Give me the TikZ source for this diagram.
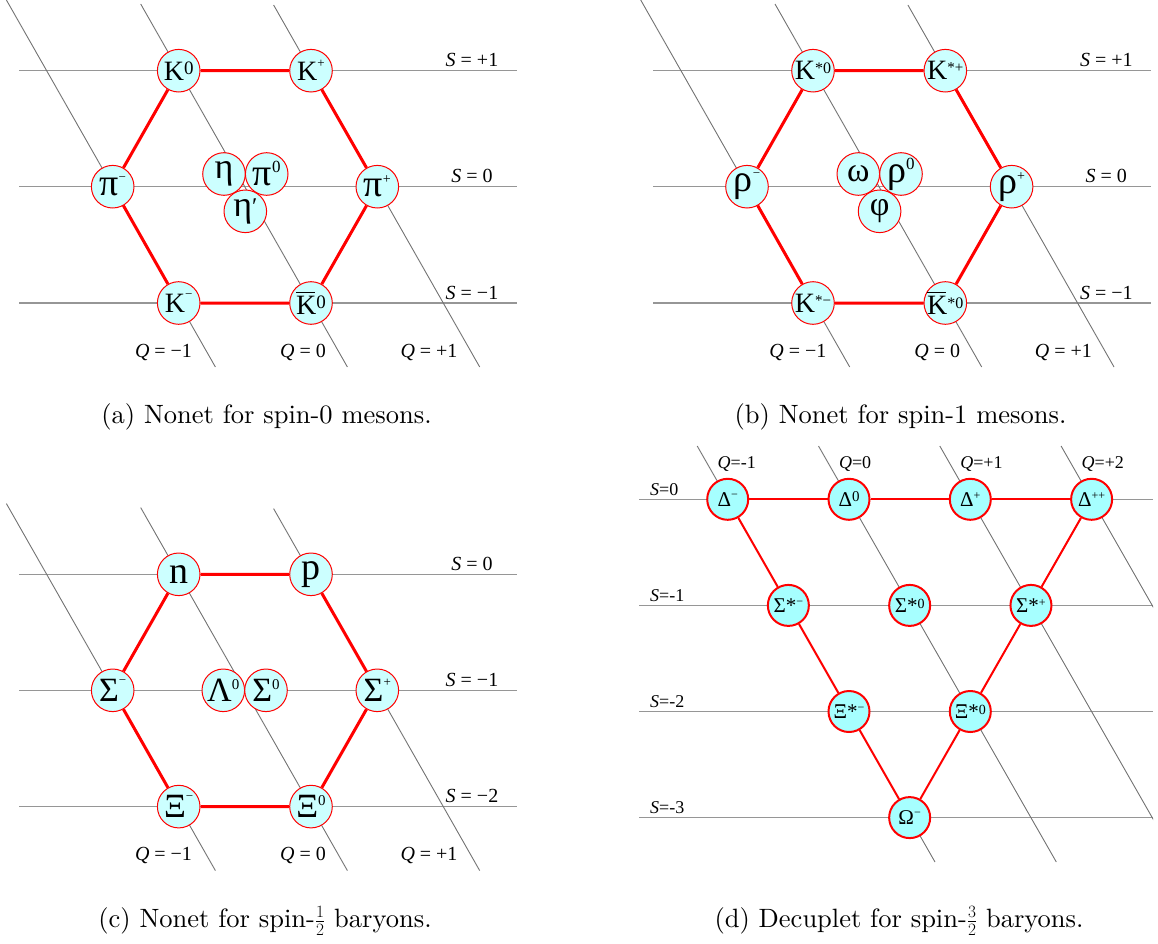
\documentclass[tikz,border=0pt]{standalone}
\usepackage{fontspec}
\newfontfamily\tms{Liberation Serif}
\newfontfamily\capfont{lmroman10-regular.otf}
\newcommand\fs[1]{\fontsize{#1}{#1}\selectfont}
\newcommand\hi[3]{\raisebox{#2pt}{\fs{#1}#3}}
\newcommand\kbar{\rlap{\rule[21pt]{19pt}{1.6pt}}K}
\definecolor{nfill}{RGB}{204,255,255}
\definecolor{dfill}{RGB}{166,255,255}
\definecolor{sgray}{RGB}{150,150,150}
\definecolor{qgray}{RGB}{115,115,115}
\tikzset{
 sline/.style={draw=sgray, line width=1.3pt},
 qline/.style={draw=qgray, line width=0.9pt},
 hexedge/.style={draw=red, line width=3pt},
 part/.style={circle, draw=red, line width=1pt, fill=nfill, minimum size=42.6pt, inner sep=0pt, font=\tms},
 dpart/.style={circle, draw=red, line width=2pt, fill=dfill, minimum size=41pt, inner sep=0pt, font=\tms\fs{21}},
 dedge/.style={draw=red, line width=2pt},
 slab/.style={font=\tms\fs{20}, anchor=base, inner sep=0pt},
 dlab/.style={font=\tms\fs{18}, anchor=base west, inner sep=0pt},
 caption/.style={font=\capfont\fs{26.5}, anchor=base, inner sep=0pt},
}
\newcommand\nonetgrid{%
 \draw[sline] (19,70.7) -- (517,70.7);
 \draw[sline] (19,186.7) -- (517,186.7);
 \draw[sline] (19,303) -- (517,303);
 \draw[qline] (6.4,0) -- (215.4,367);
 \draw[qline] (140.7,4) -- (347.4,367);
 \draw[qline] (273.6,5) -- (479.7,367);
}
\begin{document}
\begin{tikzpicture}[x=1pt,y=-1pt]
\useasboundingbox (0,0) rectangle (1158,944);
% ---------------- (a)
\begin{scope}
 \nonetgrid
 \node[part] (aK0) at (178.7,70.7) {\fs{28}K\hi{19}{6}{0}};
 \node[part] (aKp) at (311,70.7) {\fs{28}K\hi{13}{13}{+}};
 \node[part] (apim) at (112.7,186.7) {\fs{38}π\hi{13}{14}{−}};
 \node[part] (apip) at (377.3,186.7) {\fs{38}π\hi{14}{13}{+}};
 \node[part] (aKm) at (178.7,303) {\fs{28}K\hi{13}{13.5}{−}};
 \node[part] (aK0b) at (311,303) {\fs{28}\kbar\hi{19}{6}{0}};
 \node[part] (aeta) at (224,174) {\fs{36}η};
 \node[part] (api0) at (266.7,174) {\fs{38}π\hi{17}{13}{0}};
 \node[part] (aetap) at (245.3,211.3) {\fs{36}η\hi{24}{2}{′}};
 \draw[hexedge] (aK0) -- (aKp) -- (apip) -- (aK0b) -- (aKm) -- (apim) -- (aK0);
 \node[slab] (aS1) at (472,66.7) {\textit{S} = +1};
 \node[slab] (aS2) at (472,182.7) {\textit{S} = 0};
 \node[slab] (aS3) at (472,299) {\textit{S} = −1};
 \node[slab] (aQ1) at (163.5,357) {\textit{Q} = −1};
 \node[slab] (aQ2) at (303,357) {\textit{Q} = 0};
 \node[slab] (aQ3) at (429,357) {\textit{Q} = +1};
 \node[caption] (acap) at (266.5,423) {(a) Nonet for spin-0 mesons.};
\end{scope}
% ---------------- (b)
\begin{scope}[shift={(634.3,0)}]
 \nonetgrid
 \node[part] (bK0) at (178.7,70.7) {\fs{28}K\hi{16}{6}{*0}};
 \node[part] (bKp) at (311,70.7) {\fs{28}K\hi{15}{7}{*+}};
 \node[part] (brm) at (112.7,186.7) {\fs{38}ρ\hi{13}{14}{−}};
 \node[part] (brp) at (377.3,186.7) {\fs{38}ρ\hi{14}{13}{+}};
 \node[part] (bKm) at (178.7,303) {\fs{28}K\hi{15}{7}{*−}};
 \node[part] (bK0b) at (311,303) {\fs{28}\kbar\hi{16}{6}{*0}};
 \node[part] (bom) at (224,174) {\fs{34}ω};
 \node[part] (br0) at (266.7,174) {\fs{38}ρ\hi{17}{13}{0}};
 \node[part] (bphi) at (245.3,211.3) {\fs{34}φ};
 \draw[hexedge] (bK0) -- (bKp) -- (brp) -- (bK0b) -- (bKm) -- (brm) -- (bK0);
 \node[slab] (bS1) at (472,66.7) {\textit{S} = +1};
 \node[slab] (bS2) at (472,182.7) {\textit{S} = 0};
 \node[slab] (bS3) at (472,299) {\textit{S} = −1};
 \node[slab] (bQ1) at (163.5,357) {\textit{Q} = −1};
 \node[slab] (bQ2) at (303,357) {\textit{Q} = 0};
 \node[slab] (bQ3) at (429,357) {\textit{Q} = +1};
 \node[caption] (bcap) at (266.2,423) {(b) Nonet for spin-1 mesons.};
\end{scope}
% ---------------- (c)
\begin{scope}[shift={(0,503.6)}]
 \nonetgrid
 \node[part] (cn) at (178.7,70.7) {\fs{38}n};
 \node[part] (cp) at (311,70.7) {\fs{38}p};
 \node[part] (cSm) at (112.7,186.7) {\fs{34}Σ\hi{13}{17}{−}};
 \node[part] (cSp) at (377.3,186.7) {\fs{34}Σ\hi{13}{15}{+}};
 \node[part] (cXm) at (178.7,303) {\fs{34}Ξ\hi{13}{17}{−}};
 \node[part] (cX0) at (311,303) {\fs{34}Ξ\hi{15}{12}{0}};
 \node[part] (cL0) at (223.3,186.7) {\fs{34}Λ\hi{15}{12}{0}};
 \node[part] (cS0) at (266,186.7) {\fs{34}Σ\hi{15}{12}{0}};
 \draw[hexedge] (cn) -- (cp) -- (cSp) -- (cX0) -- (cXm) -- (cSm) -- (cn);
 \node[slab] (cS1) at (472,66.7) {\textit{S} = 0};
 \node[slab] (cS2) at (472,182.7) {\textit{S} = −1};
 \node[slab] (cS3) at (472,299) {\textit{S} = −2};
 \node[slab] (cQ1) at (163.5,357) {\textit{Q} = −1};
 \node[slab] (cQ2) at (303,357) {\textit{Q} = 0};
 \node[slab] (cQ3) at (429,357) {\textit{Q} = +1};
 \node[caption] (ccap) at (265,423.4) {(c) Nonet for spin-$\frac12$ baryons.};
\end{scope}
% ---------------- (d)
\draw[sline] (639,499.3) -- (1153,499.3);
\draw[sline] (639,605.4) -- (1153,605.4);
\draw[sline] (639,711.5) -- (1153,711.5);
\draw[sline] (639,817.6) -- (1153,817.6);
\begin{scope}
 \clip (600,440) rectangle (1153,862);
 \draw[qline] (697.2,446) -- (935.0,862);
 \draw[qline] (818.5,446) -- (1056.3,862);
 \draw[qline] (939.8,446) -- (1177.6,862);
 \draw[qline] (1061.1,446) -- (1298.9,862);
\end{scope}
\node[dpart] (dDm) at (727.7,499.3) {Δ\hi{12}{8}{−}};
\node[dpart] (dD0) at (849,499.3) {Δ\hi{15}{5}{0}};
\node[dpart] (dDp) at (970.3,499.3) {Δ\hi{12}{7}{+}};
\node[dpart] (dDpp) at (1091.6,499.3) {Δ\hi{12}{7}{++}};
\node[dpart] (dSm) at (788.35,605.4) {Σ*\hi{12}{7}{−}};
\node[dpart] (dS0) at (909.65,605.4) {Σ*\hi{14}{4}{0}};
\node[dpart] (dSp) at (1030.95,605.4) {Σ*\hi{12}{6}{+}};
\node[dpart] (dXm) at (849,711.5) {Ξ*\hi{12}{7}{−}};
\node[dpart] (dX0) at (970.3,711.5) {Ξ*\hi{14}{4}{0}};
\node[dpart] (dOm) at (909.65,817.6) {Ω\hi{12}{8}{−}};
\draw[dedge] (dDm) -- (dD0) -- (dDp) -- (dDpp);
\draw[dedge] (dDm) -- (dSm) -- (dXm) -- (dOm);
\draw[dedge] (dDpp) -- (dSp) -- (dX0) -- (dOm);
\node[dlab] (dS1) at (650,495) {\textit{S}=0};
\node[dlab] (dS2) at (650,601) {\textit{S}=-1};
\node[dlab] (dS3) at (650,707.2) {\textit{S}=-2};
\node[dlab] (dS4) at (650,813.3) {\textit{S}=-3};
\node[dlab] (dQ1) at (717.5,468) {\textit{Q}=-1};
\node[dlab] (dQ2) at (838.8,468) {\textit{Q}=0};
\node[dlab] (dQ3) at (960.1,468) {\textit{Q}=+1};
\node[dlab] (dQ4) at (1081.4,468) {\textit{Q}=+2};
\node[caption] (dcap) at (899,927) {(d) Decuplet for spin-$\frac32$ baryons.};
\end{tikzpicture}
\end{document}
